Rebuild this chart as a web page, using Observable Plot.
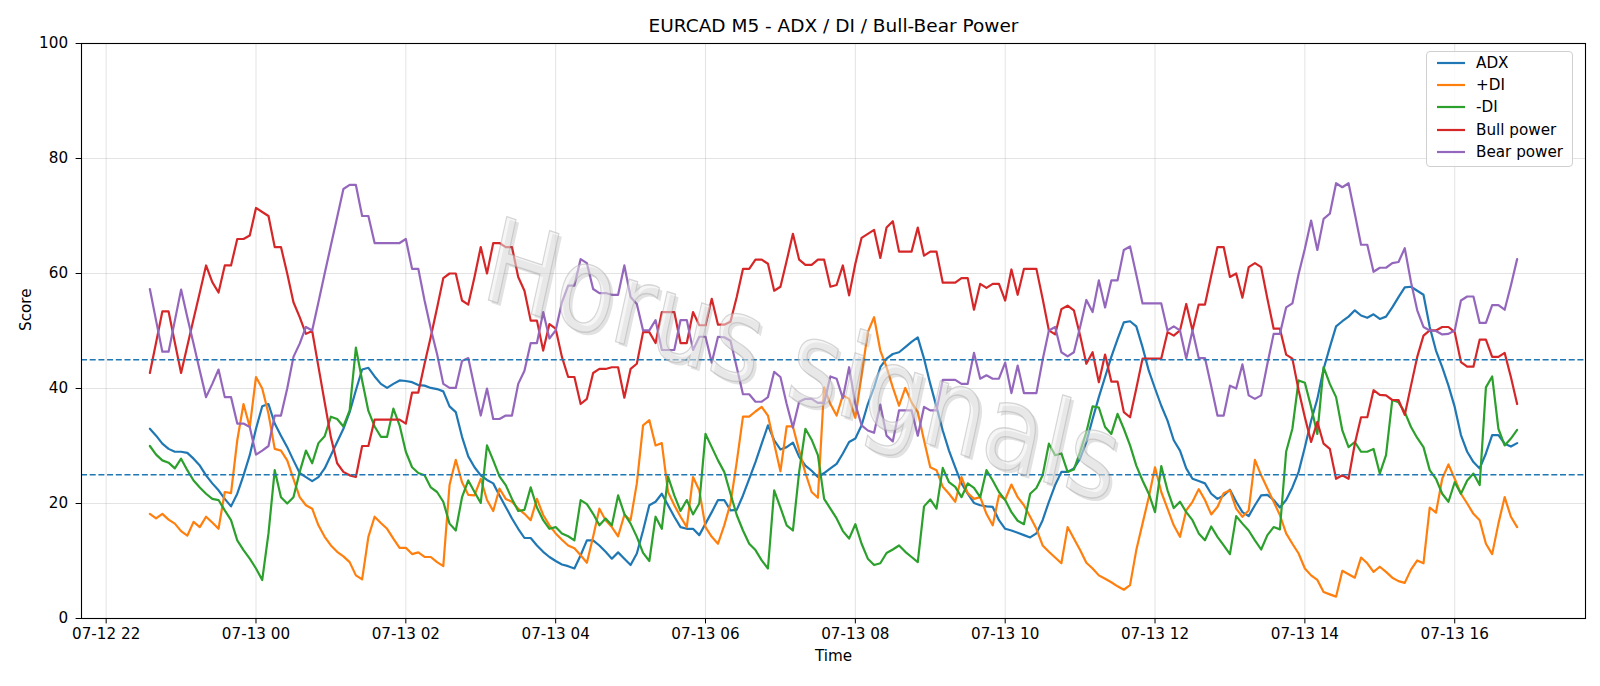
<!DOCTYPE html>
<html>
<head>
<meta charset="utf-8">
<script src="https://cdn.jsdelivr.net/npm/d3@7"></script>
<script src="https://cdn.jsdelivr.net/npm/@observablehq/plot@0.6"></script>
<style>
  body { margin: 0; background: #fff; font-family: "DejaVu Sans", sans-serif; }
  #chart { position: relative; width: 1600px; height: 686px; }
  .legend { position: absolute; left: 1426px; top: 51px; width: 147px; height: 116px;
            box-sizing: border-box; border: 1px solid #d0d0d0; border-radius: 4px;
            background: rgba(255,255,255,0.85); }
  .legend .row { position: absolute; left: 0; height: 20px; display: flex; align-items: center; }
  .legend .row span { position: absolute; left: 49px; font-size: 15.2px; white-space: nowrap; color: #000; }
</style>
</head>
<body>
<div id="chart"></div>
<script>
// EURCAD 5-minute bars, 12 Jul 22:35 to 13 Jul 16:50 (UTC)
const startTime = "2025-07-12T22:35:00Z";
const stepMinutes = 5;

const seriesNames = ["ADX", "+DI", "-DI", "Bull power", "Bear power"];
const seriesColors = ["#1f77b4", "#ff7f0e", "#2ca02c", "#d62728", "#9467bd"];

const adx = [
  33, 31.8, 30.4, 29.5, 29, 29, 28.8, 27.8, 26.6, 24.9, 23.5, 22.3, 20.8, 19.5, 21.7, 24.9, 28.4, 33, 36.9, 37.3, 33.9, 31.8, 29.8,
  27.5, 25.3, 24.6, 23.9, 24.6, 26.1, 28.4, 30.7, 33, 35.9, 39.7, 43.3, 43.6, 42.1, 40.8, 40.1, 40.8, 41.4, 41.3, 41.1, 40.6, 40.5, 40.1, 39.9,
  39.5, 36.9, 35.9, 31.6, 28.2, 26.3, 24.9, 24.1, 23.5, 21.4, 19.4, 17.4, 15.6, 14, 14, 12.7, 11.6, 10.7, 10, 9.4, 9.1, 8.7, 11,
  13.6, 13.6, 12.7, 11.6, 10.4, 11.5, 10.4, 9.3, 11.3, 15.3, 19.7, 20.3, 21.7, 19.7, 17.7, 15.9, 15.6, 15.6, 14.5, 16.5, 18.5, 20.6, 20.6,
  18.8, 18.9, 21.4, 24.3, 27.2, 30.4, 33.6, 31, 29.4, 29.8, 30.6, 28.1, 26.6, 25.7, 24.6, 25.3, 26.1, 26.9, 28.7, 30.7, 31.3, 33.6, 37.3,
  40.2, 43.7, 45.2, 46, 46.3, 47.2, 48.1, 48.9, 45.2, 40.8, 36.8, 32.7, 29.2, 26.3, 23.5, 21.7, 20.1, 19.7, 19.5, 19.4, 17.1, 15.6, 15.3, 14.9,
  14.5, 14.1, 14.8, 17.1, 20.3, 23.2, 25.5, 25.5, 26.1, 27.8, 30.7, 34.7, 38.5, 42, 45.5, 48.6, 51.5, 51.7, 50.8, 47.2, 43.1, 40, 37,
  34.4, 31, 29.2, 26.1, 24.3, 23.9, 23.5, 21.7, 20.8, 21.4, 22.4, 20.3, 18.5, 17.8, 19.7, 21.4, 21.5, 20.6, 19.3, 20.6, 22.8, 25.5, 29.8,
  34.4, 38.2, 43.4, 47.2, 50.8, 51.7, 52.5, 53.6, 52.7, 52.3, 52.9, 52.1, 52.5, 54.1, 55.9, 57.6, 57.7, 57, 56.3, 50.7, 46.6, 43.7, 40.5,
  36.8, 31.9, 29, 27.2, 26.1, 28.7, 31.9, 31.9, 30.4, 29.9, 30.5
];

const plusDI = [
  18.2, 17.4, 18.2, 17.2, 16.5, 15.2, 14.4, 16.8, 15.9, 17.7, 16.7, 15.6, 22, 21.8, 31, 37.3, 33.3, 42, 40, 35.6, 29.5, 29.2, 27.5,
  24.3, 21.1, 19.7, 19.1, 16.2, 14.2, 12.7, 11.6, 10.8, 9.8, 7.5, 6.8, 14.2, 17.7, 16.6, 15.6, 13.9, 12.3, 12.3, 11.2, 11.5, 10.7, 10.7, 9.8,
  9.1, 23.2, 27.6, 23.7, 21.5, 21.4, 24.3, 20.6, 18.7, 22.6, 20.8, 20.3, 19.1, 18.2, 17.1, 20.8, 18, 16.2, 14.8, 13.7, 12.7, 12.2, 11,
  9.7, 14.2, 19.1, 17.1, 15.9, 14.3, 18, 17.1, 23.5, 33.6, 34.5, 30.1, 30.5, 22, 19.7, 17.7, 15.9, 24.6, 22.3, 15.9, 14.2, 13, 16.2,
  20, 27.2, 35.1, 35.1, 36, 36.8, 35.3, 30.4, 25.6, 33.4, 33.4, 29.2, 25.3, 22, 21, 40.2, 37.3, 35.3, 38.8, 38.2, 34.9, 42.3, 49.8,
  52.4, 46.6, 43.7, 40.2, 37, 40.1, 37.6, 35.9, 31, 26.3, 25.8, 22.9, 21.7, 20.3, 24.6, 21.8, 20.8, 21.1, 18.2, 16.2, 21.4, 20.7, 23.3, 21.1,
  19.7, 17.7, 15.6, 12.7, 11.6, 10.6, 9.6, 15.9, 13.9, 11.9, 9.7, 8.7, 7.5, 6.9, 6.3, 5.6, 5, 5.8, 11.9, 16.5, 21.1, 26.3, 22,
  19.1, 16.2, 14.2, 18.8, 20.3, 22.5, 20.6, 18.1, 19.4, 21.8, 22.3, 19.1, 17.7, 18.8, 27.6, 24.9, 22.6, 20.3, 18, 14.8, 13, 11.3, 8.7,
  7.5, 6.7, 4.6, 4.2, 3.8, 8.3, 7.7, 7.1, 10.6, 9.6, 8.1, 9, 8.1, 7.1, 6.5, 6.2, 8.5, 10.1, 9.6, 19.3, 18.4, 24.3, 26.8,
  24.3, 21.7, 20, 18.2, 17.1, 13, 11.2, 16.5, 21.1, 17.7, 15.9
];

const minusDI = [
  30, 28.5, 27.5, 27.1, 26.1, 27.8, 25.8, 24, 22.8, 21.7, 20.8, 20.6, 18.8, 17.1, 13.6, 11.9, 10.4, 8.7, 6.7, 14.8, 25.8, 21.1, 20,
  21.1, 25.5, 29.2, 27, 30.5, 31.7, 35.1, 34.7, 33.4, 36.2, 47.1, 41.4, 36.1, 33.4, 31.6, 31.6, 36.5, 33.6, 29, 26.3, 25.3, 24.9, 22.8, 22,
  20.3, 16.5, 15.3, 21.1, 24, 22, 20.1, 30.1, 27.5, 24.7, 23.2, 20.8, 18.7, 18.9, 22.8, 19.3, 17.1, 15.6, 15.9, 14.8, 14.3, 13.6, 20.6,
  19.9, 18.2, 16.2, 17.4, 16.2, 21.4, 18.2, 16.5, 14.2, 11.4, 10, 17.7, 15.6, 24.7, 21.4, 18.7, 20.6, 18.1, 20, 32.1, 29.8, 27.5, 25.5,
  21.7, 18, 15.3, 13, 11.9, 10.1, 8.7, 22.3, 19.3, 16.2, 15.3, 25.5, 33, 31.1, 28.4, 20.8, 19.1, 17.4, 15.2, 13.9, 16.4, 13, 10.4,
  9.3, 9.6, 11.4, 12, 12.7, 11.6, 10.7, 9.8, 19.5, 20.7, 19.1, 26.2, 23.7, 22.9, 21.1, 23.5, 22.7, 21.1, 25.8, 24, 22, 20.6, 18.5, 17,
  16.4, 21.7, 22.7, 24.9, 30.4, 28.4, 28.7, 25.5, 25.9, 29, 32.4, 36.9, 36.7, 33.3, 32.1, 35.6, 33, 30.1, 26.6, 24, 21.7, 18.5, 26.5,
  22.3, 19.2, 20.3, 18.5, 17.1, 14.8, 13.6, 16, 14.2, 12.7, 11.2, 17.8, 16.5, 15.3, 13.6, 12, 14.5, 15.9, 15.5, 29, 33, 41.4, 41,
  36.8, 32.1, 43.7, 40.8, 38.5, 32.7, 29.8, 30.7, 29, 29, 29.5, 25.2, 28.4, 38, 37.6, 35.9, 33.3, 31.4, 29.8, 25.8, 24.3, 21.7, 20.3,
  23.7, 21.7, 24, 25.2, 23.2, 40.2, 42.1, 33, 30.1, 31.3, 32.8
];

const bullPower = [
  42.7, 48, 53.4, 53.4, 48, 42.7, 47.4, 52.1, 56.7, 61.4, 58.5, 56.7, 61.4, 61.4, 66, 66, 66.6, 71.4, 70.7, 70, 64.6, 64.6, 60,
  55, 52.4, 49.5, 50, 43.8, 37.6, 31.5, 27, 25.5, 24.9, 24.6, 30, 30, 34.6, 34.6, 34.6, 34.6, 34.6, 33.9, 39.3, 39.3, 44.3, 49, 54,
  59.2, 60, 60, 55.3, 54.6, 59.4, 64.6, 60, 65.3, 65.3, 64.6, 64.6, 59.4, 57, 51.8, 51.8, 46.6, 51.2, 50.4, 45.5, 42, 42, 37.3,
  38.2, 42.7, 43.4, 43.4, 43.7, 43.7, 38.4, 43.4, 44.3, 49.8, 49.8, 47.9, 53.3, 53.3, 53.3, 47.9, 47.9, 53.3, 51, 51, 55.6, 51.1, 51.1,
  51.6, 55.9, 60.8, 60.8, 62.4, 62.4, 61.7, 57, 57.7, 62.2, 66.9, 62.4, 61.5, 61.5, 62.4, 62.4, 57.7, 58, 61.4, 56.2, 61.7, 66.2, 66.9,
  67.6, 62.7, 68, 69.1, 63.8, 63.8, 63.8, 68, 63.1, 63.8, 63.8, 58.4, 58.4, 58.4, 59.2, 59.2, 53.7, 58.2, 57.5, 58.2, 58.2, 55.3, 60.7, 56.3,
  60.8, 60.8, 60.8, 55.6, 50.1, 49.4, 53.8, 54.4, 53.6, 49.2, 44.3, 46.3, 41.1, 45.9, 41.2, 41.2, 35.9, 35, 40, 45.2, 45.2, 45.2, 45.2,
  49.8, 49.2, 50.1, 54.7, 50.1, 54.6, 54.6, 59.6, 64.6, 64.6, 59.4, 60, 55.8, 61.1, 61.8, 61.1, 55.6, 50.4, 50.4, 45.9, 45.2, 39.7, 35,
  30.7, 34.2, 30.4, 29.5, 24.3, 24.9, 24.3, 30.4, 35, 35, 39.7, 38.9, 38.8, 38, 38, 35.4, 40.5, 45.5, 49.2, 50.1, 50.1, 50.7, 50.7,
  49.8, 44.6, 43.8, 43.8, 48.5, 48.5, 45.5, 45.5, 46.2, 42, 37.3
];

const bearPower = [
  57.3, 51.8, 46.4, 46.4, 51.8, 57.2, 52.4, 47.8, 43.1, 38.5, 40.8, 43.3, 38.5, 38.5, 33.9, 33.9, 33.3, 28.5, 29.2, 30, 35.3, 35.3, 40,
  45.5, 47.8, 50.7, 50.1, 55, 60, 64.9, 69.8, 74.7, 75.4, 75.4, 70, 70, 65.3, 65.3, 65.3, 65.3, 65.3, 66, 60.8, 60.8, 55.3, 50.4, 46,
  40.8, 40.1, 40.1, 44.8, 45.3, 40.2, 35.3, 40, 34.7, 34.7, 35.3, 35.3, 40.8, 43.1, 47.9, 47.9, 53.3, 48.7, 50.1, 55, 57.9, 57.9, 62.5,
  61.8, 57.3, 56.6, 56.6, 56.3, 56.3, 61.4, 55.9, 54.7, 50.1, 50.1, 51.9, 46.7, 46.7, 46.7, 51.9, 51.9, 46.7, 49, 49, 44.5, 49, 48.9,
  48.3, 43.7, 39, 39, 37.7, 37.7, 38.5, 42.9, 42, 37.3, 33.2, 37.7, 38.2, 38.2, 37.5, 37.5, 42.1, 41.7, 38.3, 43.7, 37.3, 33.6, 32.7,
  32.3, 37.2, 31.8, 30.8, 36.2, 36.2, 36.2, 31.8, 36.8, 36.2, 36.2, 41.5, 41.5, 41.5, 40.8, 40.8, 46.2, 41.7, 42.3, 41.7, 41.7, 44.5, 39.2, 44,
  39.2, 39.2, 39.2, 45, 50.1, 50.7, 46.3, 45.6, 46.3, 50.7, 55.4, 53.3, 58.8, 54.1, 58.8, 58.8, 64.1, 64.7, 59.8, 54.8, 54.8, 54.8, 54.8,
  50.1, 50.8, 50.1, 45.2, 50.1, 45.3, 45.3, 40.4, 35.3, 35.3, 40.5, 40, 44.2, 38.8, 38.2, 38.8, 44.3, 49.5, 49.5, 54.1, 54.8, 59.9, 64.3,
  69.2, 64.1, 69.5, 70.4, 75.7, 75, 75.7, 70.4, 65, 65, 60.3, 61, 61, 61.8, 62, 64.4, 58.5, 53.6, 50.7, 50.1, 50, 49.4, 49.5,
  50.1, 55.3, 56, 56, 51.4, 51.4, 54.5, 54.5, 53.7, 57.9, 62.5
];

// Reference levels drawn as dashed horizontal lines
const thresholds = [45, 25];

// Axis ticks and labels
const yTicks = [0, 20, 40, 60, 80, 100];
const timeTicks = [
  "2025-07-12T22:00:00Z", "2025-07-13T00:00:00Z", "2025-07-13T02:00:00Z",
  "2025-07-13T04:00:00Z", "2025-07-13T06:00:00Z", "2025-07-13T08:00:00Z",
  "2025-07-13T10:00:00Z", "2025-07-13T12:00:00Z", "2025-07-13T14:00:00Z",
  "2025-07-13T16:00:00Z"
];
const titleText = "EURCAD M5 - ADX / DI / Bull-Bear Power";
const xLabel = "Time";
const yLabel = "Score";
const watermarkText = "Horus signals";

// Long-format table for the line mark
const t0 = Date.parse(startTime);
const times = adx.map((_, i) => new Date(t0 + i * stepMinutes * 60000));
const seriesValues = [adx, plusDI, minusDI, bullPower, bearPower];
const rows = [];
seriesNames.forEach((name, s) => {
  seriesValues[s].forEach((v, i) => rows.push({ time: times[i], value: v, series: name }));
});

// 5% padding on each side of the time range
const first = +times[0], last = +times[times.length - 1];
const pad = (last - first) * 0.05;
const xDomain = [new Date(first - pad), new Date(last + pad)];
const tickDates = timeTicks.map(d => new Date(d));

const chart = Plot.plot({
  width: 1600,
  height: 686,
  marginLeft: 81,
  marginRight: 15,
  marginTop: 43,
  marginBottom: 68,
  style: { fontFamily: "DejaVu Sans, sans-serif", fontSize: "15.2px", color: "#000", background: "#fff" },
  x: { type: "utc", domain: xDomain },
  y: { domain: [0, 100] },
  color: { domain: seriesNames, range: seriesColors },
  marks: [
    Plot.gridX(tickDates, { stroke: "#b0b0b0", strokeOpacity: 0.35, strokeWidth: 1 }),
    Plot.gridY(yTicks, { stroke: "#b0b0b0", strokeOpacity: 0.35, strokeWidth: 1 }),
    Plot.line(rows, { x: "time", y: "value", z: "series", stroke: "series", strokeWidth: 2.2 }),
    Plot.ruleY(thresholds, { stroke: "#1f77b4", strokeWidth: 1.6, strokeDasharray: "6,2.7" }),
    Plot.frame({ stroke: "#000", strokeWidth: 1.1 }),
    Plot.axisX(tickDates, { tickFormat: "%m-%d %H", tickSize: 5.4, tickPadding: 4, label: null }),
    Plot.axisY(yTicks, { tickSize: 5.4, tickPadding: 8, label: null }),
    Plot.text([titleText], { frameAnchor: "top", lineAnchor: "middle", dy: -17, fontSize: 18.5 }),
    Plot.text([yLabel], { frameAnchor: "left", dx: -55, rotate: -90, fontSize: 15.2 }),
    Plot.text([xLabel], { frameAnchor: "bottom", lineAnchor: "middle", dy: 38, fontSize: 15.2 })
  ]
});

const container = document.getElementById("chart");
container.appendChild(chart);

// Watermark over the plot area: tilted, slightly stretched lettering with a soft shadow
const svg = d3.select(chart);
const wm = svg.insert("g", "g[aria-label='frame']")
  .attr("font-family", "DejaVu Sans, sans-serif")
  .attr("font-size", 97)
  .attr("text-anchor", "middle")
  .attr("dominant-baseline", "central")
  .attr("pointer-events", "none");
wm.append("text")
  .attr("transform", "translate(806,364) scale(1,1.22) rotate(15)")
  .attr("fill", "#6f6f6f").attr("fill-opacity", 0.2)
  .text(watermarkText);
wm.append("text")
  .attr("transform", "translate(803,361) scale(1,1.22) rotate(15)")
  .attr("fill", "#eeeeee").attr("fill-opacity", 0.5)
  .attr("stroke", "#a8a8a8").attr("stroke-opacity", 0.45).attr("stroke-width", 1.1)
  .text(watermarkText);

// Legend box in the upper right corner of the plot area
const legend = d3.select(container).append("div").attr("class", "legend");
seriesNames.forEach((name, i) => {
  const row = legend.append("div").attr("class", "row").style("top", (1 + i * 22.2) + "px");
  const sw = row.append("svg").attr("width", 40).attr("height", 20);
  sw.append("line").attr("x1", 10).attr("x2", 38).attr("y1", 10).attr("y2", 10)
    .attr("stroke", seriesColors[i]).attr("stroke-width", 2.2);
  row.append("span").text(name);
});
</script>
</body>
</html>
